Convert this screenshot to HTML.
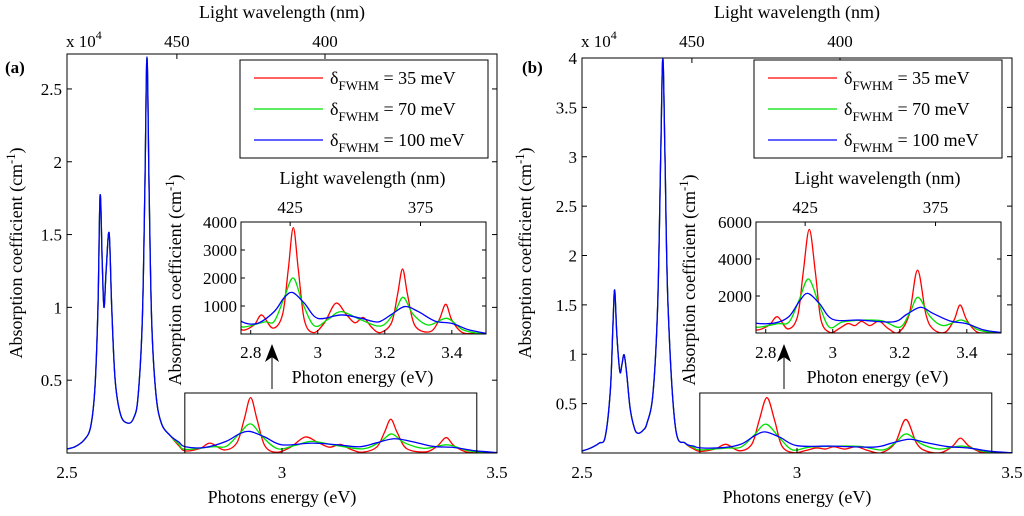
<!DOCTYPE html>
<html><head><meta charset="utf-8">
<style>
html,body{margin:0;padding:0;background:#fff;}
svg, svg text{font-family:"Liberation Serif","DejaVu Serif",serif;}
</style></head>
<body>
<svg id="fig" width="1024" height="511" viewBox="0 0 1024 511" font-family="Liberation Serif, DejaVu Serif, serif" xmlns="http://www.w3.org/2000/svg"></svg>
<script>
// ---------- data (energies in eV, absorption in cm^-1) ----------
const lowE_a = [2.50,2.52,2.54,2.555,2.565,2.572,2.577,2.582,2.586,2.591,2.598,2.604,2.612,2.625,2.642,2.655,2.665,2.675,2.681,2.686,2.691,2.697,2.707,2.72,2.74];
const low_a  = [270,450,900,1800,4500,10000,17700,13000,10000,12500,15100,10000,5000,2600,2050,2400,3800,9000,18000,27200,18000,9000,4000,2000,1200];
const redE_a   = [2.76,2.775,2.81,2.833,2.866,2.895,2.912,2.927,2.942,2.96,2.987,3.02,3.054,3.085,3.111,3.136,3.16,3.186,3.22,3.238,3.253,3.268,3.29,3.335,3.362,3.382,3.40,3.43,3.47,3.50];
const red_a    = [500,143,320,680,210,700,2300,3800,2300,500,50,400,1100,700,400,590,250,50,400,1400,2320,1400,300,80,500,1060,500,60,15,10];
const greenE_a = [2.76,2.775,2.84,2.87,2.90,2.927,2.955,2.99,3.03,3.07,3.13,3.19,3.23,3.255,3.285,3.33,3.385,3.43,3.47,3.50];
const green_a  = [600,250,430,450,1300,2000,1100,290,520,800,500,290,800,1310,700,320,560,170,40,20];
const blueE_a  = [2.76,2.775,2.82,2.87,2.90,2.925,2.96,3.0,3.07,3.13,3.18,3.22,3.26,3.30,3.35,3.40,3.45,3.50];
const blue_a   = [750,430,380,800,1300,1480,1100,560,680,560,430,700,980,800,460,380,150,30];

const lowE_b = [2.50,2.52,2.54,2.554,2.566,2.572,2.576,2.581,2.588,2.593,2.598,2.604,2.612,2.622,2.630,2.642,2.651,2.665,2.676,2.683,2.688,2.693,2.700,2.717,2.74];
const low_b  = [200,500,1000,1650,6400,13000,16500,12000,8250,9000,9940,8000,4500,2500,2000,2300,3000,6000,15000,30000,40000,30000,15000,2700,1000];
const redE_b   = [2.76,2.775,2.81,2.835,2.866,2.895,2.912,2.93,2.948,2.965,2.992,3.02,3.045,3.066,3.086,3.111,3.138,3.165,3.196,3.228,3.253,3.278,3.30,3.335,3.362,3.38,3.40,3.43,3.47,3.50];
const red_b    = [400,160,420,880,220,900,3300,5600,3300,700,30,250,510,400,630,400,640,250,30,1000,3400,1000,200,40,700,1510,700,60,15,10];
const greenE_b = [2.76,2.775,2.835,2.87,2.90,2.928,2.96,2.99,3.03,3.10,3.15,3.20,3.23,3.255,3.29,3.33,3.385,3.43,3.47,3.50];
const green_b  = [550,310,500,600,1800,2920,1500,310,600,700,650,310,1100,1930,900,400,700,200,40,20];
const blueE_b  = [2.76,2.775,2.83,2.87,2.90,2.925,2.96,3.0,3.08,3.18,3.22,3.262,3.30,3.35,3.40,3.45,3.50];
const blue_b   = [700,520,550,900,1700,2140,1600,740,700,600,1000,1390,1050,650,500,170,30];

const mainTicksY_a = [0.5,1,1.5,2,2.5];
const mainTicksY_b = [0.5,1,1.5,2,2.5,3,3.5,4];
const insetTicksY_a = [1000,2000,3000,4000];
const insetTicksY_b = [2000,4000,6000];
const mainTicksX = [2.5,3,3.5];
const insetTicksX = [2.8,3,3.2,3.4];
const mainTopNm = [450,400];
const insetTopNm = [425,375];
const legendLabels = ["35","70","100"];
const seriesColors = ["#ff0000","#00e000","#0000ff"];

// ---------- helpers ----------
const NS="http://www.w3.org/2000/svg";
const FONT="Liberation Serif, DejaVu Serif, serif";
const svg=document.getElementById('fig');
function el(tag,attrs,parent){const e=document.createElementNS(NS,tag);for(const k in attrs)e.setAttribute(k,attrs[k]);(parent||svg).appendChild(e);return e;}
function txt(s,x,y,size,anchor,parent,extra){const t=el('text',Object.assign({x:x,y:y,'font-size':size,'font-family':FONT,'text-anchor':anchor||'middle',fill:'#000'},extra||{}),parent);t.textContent=s;return t;}
function smoothPath(pts){
  if(pts.length<2)return '';
  let d='M'+pts[0][0].toFixed(2)+','+pts[0][1].toFixed(2);
  for(let i=0;i<pts.length-1;i++){
    const p0=pts[i>0?i-1:i],p1=pts[i],p2=pts[i+1],p3=pts[i+2<pts.length?i+2:i+1];
    const c1x=p1[0]+(p2[0]-p0[0])/6,c1y=p1[1]+(p2[1]-p0[1])/6;
    const c2x=p2[0]-(p3[0]-p1[0])/6,c2y=p2[1]-(p3[1]-p1[1])/6;
    d+=' C'+c1x.toFixed(2)+','+c1y.toFixed(2)+' '+c2x.toFixed(2)+','+c2y.toFixed(2)+' '+p2[0].toFixed(2)+','+p2[1].toFixed(2);
  }
  return d;
}
function ylabel(x,y,size,parent){
  const t=el('text',{x:0,y:0,'font-size':size,'font-family':FONT,'text-anchor':'middle',fill:'#000',transform:'translate('+x+','+y+') rotate(-90)'},parent);
  t.appendChild(document.createTextNode('Absorption coefficient (cm'));
  const s=el('tspan',{'font-size':size*0.7,dy:-size*0.4},t);s.textContent='-1';
  const c=el('tspan',{dy:size*0.4},t);c.textContent=')';
  return t;
}

function panel(cfg){
  const g=el('g',{});
  
  
  const L=cfg.L,R=cfg.R,T=cfg.T,B=cfg.B;
  const xs=e=>L+(e-2.5)/(1.0)*(R-L);
  const ys=v=>B-(v/1e4)/cfg.ymax*(B-T);
  const cp=el('clipPath',{id:'clip-'+cfg.id},g);el('rect',{x:L,y:T,width:R-L,height:B-T},cp);
  const series=[[cfg.rE,cfg.r],[cfg.gE,cfg.gv],[cfg.bE,cfg.bv]];
  const names=['red-35mev','green-70mev','blue-100mev'];
  const mg=el('g',{'clip-path':'url(#clip-'+cfg.id+')'},g);
  series.forEach((s,i)=>{
    const E=cfg.lowE.concat(s[0]),V=cfg.low.concat(s[1]);
    const pts=E.map((e,k)=>[xs(e),ys(V[k])]);
    const p=el('path',{d:smoothPath(pts),fill:'none',stroke:seriesColors[i],'stroke-width':1.3},mg);
    
    
  });
  const box=el('rect',{x:L,y:T,width:R-L,height:B-T,fill:'none',stroke:'#000','stroke-width':1},g);
  
  
  mainTicksX.forEach(v=>{
    const x=xs(v);
    el('line',{x1:x,y1:B,x2:x,y2:B-5,stroke:'#000'},g);
    const t=txt(String(v),x,478,17,'middle',g);
    
    
  });
  mainTopNm.forEach(nm=>{
    const x=xs(1240/nm);
    el('line',{x1:x,y1:T,x2:x,y2:T+5,stroke:'#000'},g);
    const t=txt(String(nm),x,47,17,'middle',g);
    
    
  });
  cfg.yt.forEach(v=>{
    const y=B-v/cfg.ymax*(B-T);
    el('line',{x1:L,y1:y,x2:L+5,y2:y,stroke:'#000'},g);
    el('line',{x1:R,y1:y,x2:R-5,y2:y,stroke:'#000'},g);
    const t=txt(String(v),L-5,y+6,17,'end',g);
    
    
  });
  let t=txt('Light wavelength (nm)',(L+R)/2,18,18,'middle',g);
  
  
  t=txt('Photons energy (eV)',(L+R)/2,503,18,'middle',g);
  
  
  t=el('text',{x:L-1,y:47,'font-size':17,'font-family':FONT,fill:'#000'},g);
  t.appendChild(document.createTextNode('x 10'));
  const sp=el('tspan',{'font-size':12,dy:-8},t);sp.textContent='4';
  
  
  t=txt('('+cfg.id+')',cfg.lx,73,17,'start',g,{'font-weight':'bold'});
  
  
  t=ylabel(cfg.ylx,253,18,g);
  
  

  const lg=el('g',{},g);
  
  
  el('rect',{x:cfg.lgx,y:60,width:248,height:98,fill:'#fff',stroke:'#000'},lg);
  legendLabels.forEach((lab,i)=>{
    const y=78+i*31;
    const e=el('g',{},lg);
    
    
    el('line',{x1:cfg.lgx+14,y1:y,x2:cfg.lgx+83,y2:y,stroke:seriesColors[i],'stroke-width':1.3},e);
    const tt=el('text',{x:cfg.lgx+90,y:y+6,'font-size':18,'font-family':FONT,fill:'#000'},e);
    tt.appendChild(document.createTextNode('δ'));
    const s1=el('tspan',{'font-size':13,dy:6},tt);s1.textContent='FWHM';
    const s2=el('tspan',{dy:-6},tt);s2.textContent=' = '+lab+' meV';
  });

  const zr=el('rect',{x:xs(2.774),y:393,width:xs(3.453)-xs(2.774),height:B-393,fill:'none',stroke:'#000'},g);
  
  
  const ax=cfg.arrowX;
  const ar=el('g',{},g);
  
  
  el('line',{x1:ax,y1:389,x2:ax,y2:352,stroke:'#000','stroke-width':1},ar);
  el('polygon',{points:ax+',344 '+(ax-7)+',362 '+ax+',357 '+(ax+7)+',362',fill:'#000'},ar);

  const iL=cfg.iL,iR=cfg.iR,iT=222,iB=cfg.iB;
  const e0=2.771,e1=3.502;
  const ixs=e=>iL+(e-e0)/(e1-e0)*(iR-iL);
  const iys=v=>iB-v/cfg.iymax*(iB-iT);
  const ig=el('g',{},g);
  
  
  el('rect',{x:iL,y:iT,width:iR-iL,height:iB-iT,fill:'#fff',stroke:'none'},ig);
  const icp=el('clipPath',{id:'iclip-'+cfg.id},ig);el('rect',{x:iL,y:iT,width:iR-iL,height:iB-iT},icp);
  const icg=el('g',{'clip-path':'url(#iclip-'+cfg.id+')'},ig);
  series.forEach((s,i)=>{
    const pts=s[0].map((e,k)=>[ixs(e),iys(s[1][k])]);
    const p=el('path',{d:smoothPath(pts),fill:'none',stroke:seriesColors[i],'stroke-width':1.3},icg);
    
    
  });
  el('rect',{x:iL,y:iT,width:iR-iL,height:iB-iT,fill:'none',stroke:'#000'},ig);
  insetTicksX.forEach(v=>{
    const x=ixs(v);
    el('line',{x1:x,y1:iB,x2:x,y2:iB-4,stroke:'#000'},ig);
    const t2=txt(String(v),x,358,17,'middle',ig);
    
    
  });
  insetTopNm.forEach(nm=>{
    const x=ixs(1240/nm);
    el('line',{x1:x,y1:iT,x2:x,y2:iT+4,stroke:'#000'},ig);
    const t2=txt(String(nm),x,213,17,'middle',ig);
    
    
  });
  cfg.iyt.forEach(v=>{
    const y=iys(v);
    el('line',{x1:iL,y1:y,x2:iL+4,y2:y,stroke:'#000'},ig);
    el('line',{x1:iR,y1:y,x2:iR-4,y2:y,stroke:'#000'},ig);
    const t2=txt(String(v),iL-4,y+6,17,'end',ig);
    
    
  });
  t=txt('Light wavelength (nm)',(iL+iR)/2-1,184,18,'middle',ig);
  
  
  t=txt('Photon energy (eV)',(iL+iR)/2-1,383,18,'middle',ig);
  
  
  t=ylabel(cfg.iylx,280,18,ig);
  
  
}

panel({id:'a',L:67,R:497,T:54,B:453,ymax:2.74,yt:mainTicksY_a,lx:5,ylx:22,lgx:240,
  lowE:lowE_a,low:low_a,rE:redE_a,r:red_a,gE:greenE_a,gv:green_a,bE:blueE_a,bv:blue_a,
  arrowX:272,iL:241,iR:486,iB:334,iymax:4000,iyt:insetTicksY_a,iylx:181});
panel({id:'b',L:582,R:1012,T:58,B:453,ymax:4.0,yt:mainTicksY_b,lx:522,ylx:531,lgx:754,
  lowE:lowE_b,low:low_b,rE:redE_b,r:red_b,gE:greenE_b,gv:green_b,bE:blueE_b,bv:blue_b,
  arrowX:784,iL:756,iR:1001,iB:333,iymax:6000,iyt:insetTicksY_b,iylx:695});
</script>
</body></html>
